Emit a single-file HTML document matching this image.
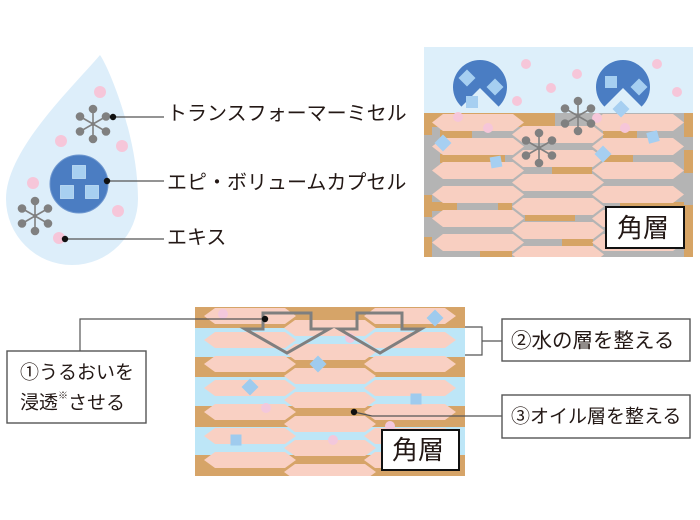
<!DOCTYPE html>
<html><head><meta charset="utf-8">
<style>
html,body{margin:0;padding:0;background:#fff;width:700px;height:520px;overflow:hidden;}
svg{display:block;}
text{font-family:"Liberation Sans","Noto Sans CJK JP",sans-serif;fill:#231815;}
</style></head><body>
<svg width="700" height="520" viewBox="0 0 700 520">
<defs>
<clipPath id="cTop"><rect x="424" y="113" width="269" height="144"/></clipPath>
<clipPath id="cBot"><rect x="195" y="307" width="270" height="169"/></clipPath>
</defs>

<!-- ============ DROP ============ -->
<path d="M100,55 C108,66 138,135 138,199 A66,66 0 0 1 6,199 C6,150 72,88 100,55 Z" fill="#ddeefa"/>
<g fill="#f6c6d9">
<circle cx="100" cy="92" r="6"/>
<circle cx="61" cy="141" r="6"/>
<circle cx="122" cy="146" r="6"/>
<circle cx="33" cy="183" r="6"/>
<circle cx="118" cy="211" r="6"/>
<circle cx="59" cy="238" r="6"/>
</g>
<!-- molecule 1 -->
<g transform="translate(93,124)">
<g stroke="#808080" stroke-width="1.6"><line x1="0" y1="0" x2="0" y2="-15"/><line x1="0" y1="0" x2="0" y2="15"/><line x1="0" y1="0" x2="-13" y2="-7.5"/><line x1="0" y1="0" x2="13" y2="-7.5"/><line x1="0" y1="0" x2="-13" y2="7.5"/><line x1="0" y1="0" x2="13" y2="7.5"/></g>
<g fill="#808080"><circle cx="0" cy="-15" r="4.3"/><circle cx="0" cy="15" r="4.3"/><circle cx="-13" cy="-7.5" r="4.3"/><circle cx="13" cy="-7.5" r="4.3"/><circle cx="-13" cy="7.5" r="4.3"/><circle cx="13" cy="7.5" r="4.3"/><circle r="2"/></g>
</g>
<!-- molecule 2 -->
<g transform="translate(35,216)">
<g stroke="#808080" stroke-width="1.6"><line x1="0" y1="0" x2="0" y2="-15"/><line x1="0" y1="0" x2="0" y2="15"/><line x1="0" y1="0" x2="-13" y2="-7.5"/><line x1="0" y1="0" x2="13" y2="-7.5"/><line x1="0" y1="0" x2="-13" y2="7.5"/><line x1="0" y1="0" x2="13" y2="7.5"/></g>
<g fill="#808080"><circle cx="0" cy="-15" r="4.3"/><circle cx="0" cy="15" r="4.3"/><circle cx="-13" cy="-7.5" r="4.3"/><circle cx="13" cy="-7.5" r="4.3"/><circle cx="-13" cy="7.5" r="4.3"/><circle cx="13" cy="7.5" r="4.3"/><circle r="2"/></g>
</g>
<!-- capsule -->
<circle cx="79" cy="184" r="29" fill="#4b7dc2" stroke="#6f98d0" stroke-width="1"/>
<g fill="#a8d0f1" stroke="#c4e0f7" stroke-width="0.8">
<rect x="72.5" y="165.5" width="13" height="13"/>
<rect x="60.5" y="185.5" width="13" height="13"/>
<rect x="85.5" y="185.5" width="13" height="13"/>
</g>
<!-- leaders -->
<g stroke="#555" stroke-width="1.2">
<line x1="113" y1="117" x2="164" y2="117"/>
<line x1="107" y1="181" x2="164" y2="181"/>
<line x1="65" y1="239" x2="164" y2="239"/>
</g>
<g fill="#111">
<circle cx="113" cy="117" r="3.2"/>
<circle cx="107" cy="181" r="3.2"/>
<circle cx="65" cy="239" r="3.2"/>
</g>
<text x="167" y="114" font-size="20" dominant-baseline="central">トランスフォーマーミセル</text>
<text x="167" y="183" font-size="20" dominant-baseline="central">エピ・ボリュームカプセル</text>
<text x="167" y="238" font-size="20" dominant-baseline="central">エキス</text>

<!-- ============ TOP RIGHT ============ -->
<rect x="424" y="47" width="269" height="66" fill="#ddeffa"/>
<g clip-path="url(#cTop)">
<rect x="424" y="113" width="269" height="144" fill="#b4b4b4"/>
<g fill="#d6a465">
<rect x="424" y="113" width="131" height="14"/>
<rect x="684" y="113" width="9" height="24"/>
<rect x="684" y="150" width="9" height="23"/>
<rect x="684" y="205" width="9" height="52"/>
<rect x="424" y="113" width="8" height="22"/>
<rect x="424" y="195" width="8" height="22"/>
<rect x="424" y="237" width="8" height="20"/>
<rect x="440" y="130" width="32" height="8"/>
<rect x="440" y="154" width="65" height="9"/>
<rect x="424" y="202" width="33" height="9"/>
<rect x="498" y="202" width="14" height="9"/>
<rect x="480" y="250" width="32" height="7"/>
<rect x="552" y="166" width="40" height="8"/>
<rect x="525" y="212" width="50" height="9"/>
<rect x="562" y="236" width="31" height="10"/>
<rect x="603" y="130" width="34" height="9"/>
<rect x="603" y="154" width="30" height="9"/>
<rect x="620" y="202" width="64" height="9"/>
</g>
<g fill="#f8cfc1">
<!-- left column -->
<polygon transform="translate(432,114)" points="0,8.5 11,0 81,0 92,8.5 81,17 11,17"/>
<polygon transform="translate(432,138)" points="0,8.5 11,0 81,0 92,8.5 81,17 11,17"/>
<polygon transform="translate(432,162)" points="0,8.5 11,0 81,0 92,8.5 81,17 11,17"/>
<polygon transform="translate(432,186)" points="0,8.5 11,0 81,0 92,8.5 81,17 11,17"/>
<polygon transform="translate(432,210)" points="0,8.5 11,0 81,0 92,8.5 81,17 11,17"/>
<polygon transform="translate(432,234)" points="0,8.5 11,0 81,0 92,8.5 81,17 11,17"/>
<!-- middle column -->
<polygon transform="translate(512,126)" points="0,8.5 11,0 81,0 92,8.5 81,17 11,17"/>
<polygon transform="translate(512,150)" points="0,8.5 11,0 81,0 92,8.5 81,17 11,17"/>
<polygon transform="translate(512,174)" points="0,8.5 11,0 81,0 92,8.5 81,17 11,17"/>
<polygon transform="translate(512,198)" points="0,8.5 11,0 81,0 92,8.5 81,17 11,17"/>
<polygon transform="translate(512,222)" points="0,8.5 11,0 81,0 92,8.5 81,17 11,17"/>
<polygon transform="translate(512,246)" points="0,8.5 11,0 81,0 92,8.5 81,17 11,17"/>
<!-- right column -->
<polygon transform="translate(592,114)" points="0,8.5 11,0 81,0 92,8.5 81,17 11,17"/>
<polygon transform="translate(592,138)" points="0,8.5 11,0 81,0 92,8.5 81,17 11,17"/>
<polygon transform="translate(592,162)" points="0,8.5 11,0 81,0 92,8.5 81,17 11,17"/>
<polygon transform="translate(592,186)" points="0,8.5 11,0 81,0 92,8.5 81,17 11,17"/>
<polygon transform="translate(592,210)" points="0,8.5 11,0 81,0 92,8.5 81,17 11,17"/>
<polygon transform="translate(592,234)" points="0,8.5 11,0 81,0 92,8.5 81,17 11,17"/>
</g>
</g>
<!-- pacmen -->
<path d="M480,88 L461.4,106.6 A27,27 0 1 1 498.6,106.6 Z" fill="#4a7dc3"/>
<path d="M623,88 L604.4,106.6 A27,27 0 1 1 641.6,106.6 Z" fill="#4a7dc3"/>
<g fill="#a6cff1">
<rect x="461" y="72" width="12" height="12" transform="rotate(45 467 78)"/>
<rect x="489" y="81" width="12" height="12" transform="rotate(45 495 87)"/>
<rect x="466" y="96" width="12" height="12"/>
<rect x="605" y="76" width="12" height="12"/>
<rect x="633" y="81" width="12" height="12" transform="rotate(45 639 87)"/>
<rect x="615" y="103" width="12" height="12" transform="rotate(45 621 109)"/>
<rect x="437" y="137" width="12" height="12" transform="rotate(45 443 143)"/>
<rect x="597" y="148" width="12" height="12" transform="rotate(45 603 154)"/>
<rect x="490.5" y="156.5" width="11" height="11" transform="rotate(-10 496 162)"/>
<rect x="647.5" y="131.5" width="11" height="11" transform="rotate(-15 653 137)"/>
</g>
<g fill="#f6c6d9">
<circle cx="526" cy="64" r="5"/>
<circle cx="577" cy="74" r="5"/>
<circle cx="551" cy="88" r="5"/>
<circle cx="517" cy="101" r="5"/>
<circle cx="657" cy="64" r="5"/>
<circle cx="677" cy="92" r="5"/>
<circle cx="458" cy="117" r="5"/>
<circle cx="488" cy="128" r="5"/>
<circle cx="597" cy="118" r="5"/>
<circle cx="625" cy="128" r="5"/>
</g>
<g transform="translate(578,116)">
<g stroke="#808080" stroke-width="1.6"><line x1="0" y1="0" x2="0" y2="-15"/><line x1="0" y1="0" x2="0" y2="15"/><line x1="0" y1="0" x2="-13" y2="-7.5"/><line x1="0" y1="0" x2="13" y2="-7.5"/><line x1="0" y1="0" x2="-13" y2="7.5"/><line x1="0" y1="0" x2="13" y2="7.5"/></g>
<g fill="#808080"><circle cx="0" cy="-15" r="4.3"/><circle cx="0" cy="15" r="4.3"/><circle cx="-13" cy="-7.5" r="4.3"/><circle cx="13" cy="-7.5" r="4.3"/><circle cx="-13" cy="7.5" r="4.3"/><circle cx="13" cy="7.5" r="4.3"/><circle r="2"/></g>
</g>
<g transform="translate(539,148)">
<g stroke="#808080" stroke-width="1.6"><line x1="0" y1="0" x2="0" y2="-15"/><line x1="0" y1="0" x2="0" y2="15"/><line x1="0" y1="0" x2="-13" y2="-7.5"/><line x1="0" y1="0" x2="13" y2="-7.5"/><line x1="0" y1="0" x2="-13" y2="7.5"/><line x1="0" y1="0" x2="13" y2="7.5"/></g>
<g fill="#808080"><circle cx="0" cy="-15" r="4.3"/><circle cx="0" cy="15" r="4.3"/><circle cx="-13" cy="-7.5" r="4.3"/><circle cx="13" cy="-7.5" r="4.3"/><circle cx="-13" cy="7.5" r="4.3"/><circle cx="13" cy="7.5" r="4.3"/><circle r="2"/></g>
</g>
<rect x="606" y="207" width="78" height="41" fill="#fff" stroke="#111" stroke-width="2"/>
<text x="643" y="228" font-size="26" text-anchor="middle" dominant-baseline="central">角層</text>

<!-- ============ BOTTOM ============ -->
<g clip-path="url(#cBot)">
<rect x="195" y="307" width="270" height="169" fill="#d6a468"/>
<g fill="#bde6f7">
<rect x="195" y="328" width="270" height="29"/>
<rect x="195" y="377" width="270" height="29"/>
<rect x="195" y="427" width="270" height="28"/>
</g>
<g fill="#f9d0c3">
<polygon transform="translate(204,308)" points="0,8 11,0 81,0 92,8 81,16 11,16"/>
<polygon transform="translate(204,332)" points="0,8 11,0 81,0 92,8 81,16 11,16"/>
<polygon transform="translate(204,356)" points="0,8 11,0 81,0 92,8 81,16 11,16"/>
<polygon transform="translate(204,380)" points="0,8 11,0 81,0 92,8 81,16 11,16"/>
<polygon transform="translate(204,404)" points="0,8 11,0 81,0 92,8 81,16 11,16"/>
<polygon transform="translate(204,428)" points="0,8 11,0 81,0 92,8 81,16 11,16"/>
<polygon transform="translate(204,452)" points="0,8 11,0 81,0 92,8 81,16 11,16"/>
<polygon transform="translate(284,320)" points="0,8 11,0 81,0 92,8 81,16 11,16"/>
<polygon transform="translate(284,344)" points="0,8 11,0 81,0 92,8 81,16 11,16"/>
<polygon transform="translate(284,368)" points="0,8 11,0 81,0 92,8 81,16 11,16"/>
<polygon transform="translate(284,392)" points="0,8 11,0 81,0 92,8 81,16 11,16"/>
<polygon transform="translate(284,416)" points="0,8 11,0 81,0 92,8 81,16 11,16"/>
<polygon transform="translate(284,440)" points="0,8 11,0 81,0 92,8 81,16 11,16"/>
<polygon transform="translate(284,464)" points="0,8 11,0 81,0 92,8 81,16 11,16"/>
<polygon transform="translate(364,308)" points="0,8 11,0 81,0 92,8 81,16 11,16"/>
<polygon transform="translate(364,332)" points="0,8 11,0 81,0 92,8 81,16 11,16"/>
<polygon transform="translate(364,356)" points="0,8 11,0 81,0 92,8 81,16 11,16"/>
<polygon transform="translate(364,380)" points="0,8 11,0 81,0 92,8 81,16 11,16"/>
<polygon transform="translate(364,404)" points="0,8 11,0 81,0 92,8 81,16 11,16"/>
<polygon transform="translate(364,428)" points="0,8 11,0 81,0 92,8 81,16 11,16"/>
<polygon transform="translate(364,452)" points="0,8 11,0 81,0 92,8 81,16 11,16"/>
</g>
</g>
<g fill="#f3c8dc">
<circle cx="223" cy="314" r="5"/>
<circle cx="350" cy="338" r="5"/>
<circle cx="266" cy="408" r="5"/>
<circle cx="390" cy="426" r="5"/>
<circle cx="333" cy="440" r="5"/>
</g>
<g fill="#9fcbee">
<rect x="429" y="312" width="12" height="12" transform="rotate(45 435 318)"/>
<rect x="312" y="358" width="12" height="12" transform="rotate(45 318 364)"/>
<rect x="244" y="381" width="12" height="12" transform="rotate(45 250 387)"/>
<rect x="410.5" y="393.5" width="11" height="11"/>
<rect x="230.5" y="434.5" width="11" height="11"/>
</g>
<g fill="none" stroke="#7f7f7f" stroke-width="3" stroke-linejoin="miter">
<polygon points="263,313 311,313 311,329 329,329 287,353 245,329 263,329"/>
<polygon points="357,313 402,313 402,329 421,329 380,353 339,329 357,329"/>
</g>
<rect x="382" y="430" width="77" height="40" fill="#fff" stroke="#111" stroke-width="2"/>
<text x="418" y="450" font-size="26" text-anchor="middle" dominant-baseline="central">角層</text>

<!-- bottom leaders -->
<g stroke="#555" stroke-width="1.2" fill="none">
<polyline points="265,319 80,319 80,351"/>
<polyline points="465,327 482,327 482,355 465,355"/>
<line x1="482" y1="341" x2="502" y2="341"/>
<polyline points="354,412 372,416 502,416"/>
</g>
<circle cx="265" cy="319" r="3.2" fill="#111"/>
<circle cx="354" cy="412" r="3.2" fill="#111"/>

<g fill="#fff" stroke="#555" stroke-width="1.4">
<rect x="7" y="351" width="139" height="72"/>
<rect x="502" y="319" width="188" height="42"/>
<rect x="502" y="395" width="188" height="43"/>
</g>
<text x="20" y="373" font-size="19" dominant-baseline="central">①うるおいを</text>
<text x="20" y="403" font-size="19" dominant-baseline="central">浸透<tspan font-size="10" dy="-7">※</tspan><tspan dy="7">させる</tspan></text>
<text x="511" y="341" font-size="20.5" dominant-baseline="central">②水の層を整える</text>
<text x="511" y="417" font-size="19" dominant-baseline="central">③オイル層を整える</text>
</svg>
</body></html>
